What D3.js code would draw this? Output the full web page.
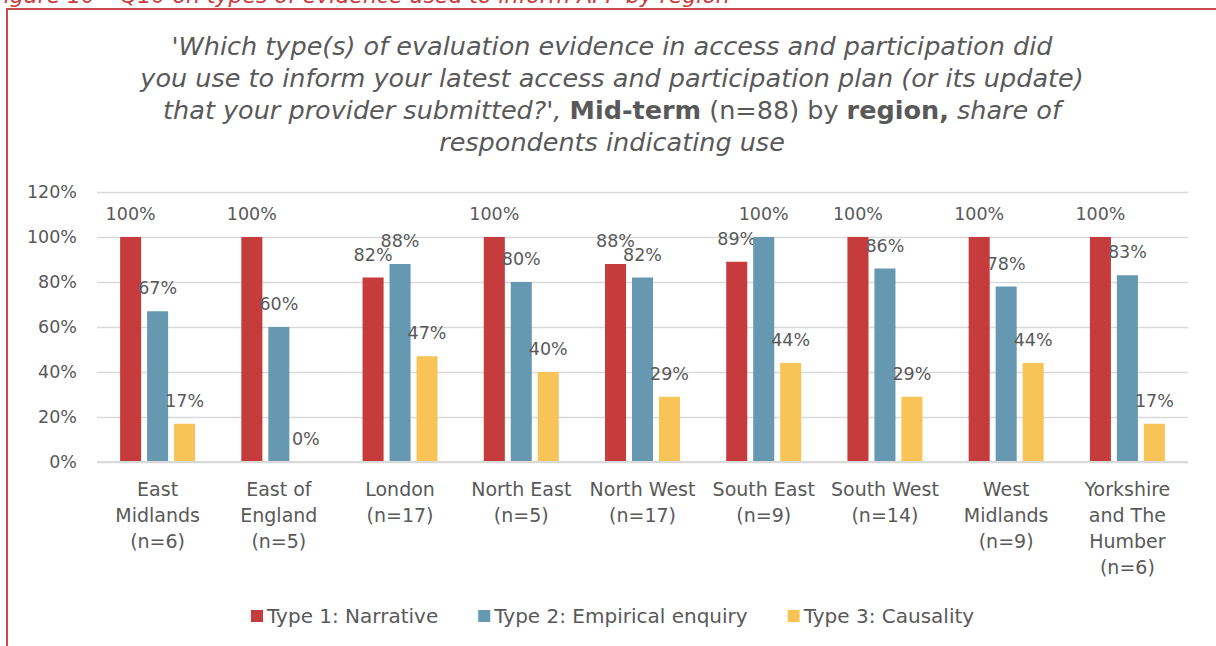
<!DOCTYPE html>
<html>
<head>
<meta charset="utf-8">
<script src="https://cdn.jsdelivr.net/npm/d3@7"></script>
<style>
  body { margin: 0; background: #fff; }
  svg { display: block; font-family: "DejaVu Sans", sans-serif; }
</style>
</head>
<body>
<script>
var width = 1216,
    height = 646;

var regions = [
  ["East", "Midlands", "(n=6)"],
  ["East of", "England", "(n=5)"],
  ["London", "(n=17)"],
  ["North East", "(n=5)"],
  ["North West", "(n=17)"],
  ["South East", "(n=9)"],
  ["South West", "(n=14)"],
  ["West", "Midlands", "(n=9)"],
  ["Yorkshire", "and The", "Humber", "(n=6)"]
];
var seriesNames = ["Type 1: Narrative", "Type 2: Empirical enquiry", "Type 3: Causality"];
var narrative = [100, 100, 82, 100, 88, 89, 100, 100, 100];
var empirical = [67, 60, 88, 80, 82, 100, 86, 78, 83];
var causality = [17, 0, 47, 40, 29, 44, 29, 44, 17];
var yTicks = [0, 20, 40, 60, 80, 100, 120];
var colors = ["#C63B3B", "#6699B1", "#F8C458"];

var series = [narrative, empirical, causality];
var textColor = "#595959";

var svg = d3.select("body")
  .append("svg")
  .attr("width", width)
  .attr("height", height);

// caption of the figure, cut off by the top of the page
svg.append("text")
  .attr("x", -9)
  .attr("y", 3)
  .attr("fill", "#C63B3B")
  .attr("font-style", "italic")
  .attr("font-size", 22)
  .text("Figure 10 \u2013 Q10 on types of evidence used to inform APP by region");

// red frame
svg.append("rect")
  .attr("x", 7)
  .attr("y", 9)
  .attr("width", 1230)
  .attr("height", 700)
  .attr("fill", "none")
  .attr("stroke", "#C94A4A")
  .attr("stroke-width", 2);

// title
var titleLines = [
  [{t: "'Which type(s) of evaluation evidence in access and participation did", s: "italic"}],
  [{t: "you use to inform your latest access and participation plan (or its update)", s: "italic"}],
  [{t: "that your provider submitted?', ", s: "italic"}, {t: "Mid-term", w: "bold"}, {t: " (n=88) by "},
   {t: "region,", w: "bold"}, {t: " share of", s: "italic"}],
  [{t: "respondents indicating use", s: "italic"}]
];
var title = svg.append("text")
  .attr("text-anchor", "middle")
  .attr("font-size", 25.5)
  .attr("fill", textColor);
titleLines.forEach(function(line, i) {
  var tl = title.append("tspan").attr("x", 612).attr("y", 55 + i * 32);
  line.forEach(function(p) {
    tl.append("tspan")
      .attr("font-style", p.s || "normal")
      .attr("font-weight", p.w || "normal")
      .text(p.t);
  });
});

var plotLeft = 97, plotRight = 1188, plotTop = 192, plotBottom = 462;

var xScale = d3.scaleBand()
  .domain(d3.range(regions.length))
  .range([plotLeft, plotRight]);

var inner = d3.scaleBand()
  .domain(d3.range(series.length))
  .range([xScale.bandwidth() / 2 - 37.5, xScale.bandwidth() / 2 + 37.5])
  .paddingInner(0.22);

var yScale = d3.scaleLinear()
  .domain([0, 120])
  .range([plotBottom, plotTop]);

// gridlines
var yAxis = d3.axisLeft(yScale)
  .tickValues(yTicks)
  .tickSize(-(plotRight - plotLeft))
  .tickPadding(20)
  .tickFormat(function(d) { return d + "%"; });

var gy = svg.append("g")
  .attr("transform", "translate(" + plotLeft + ",0)")
  .call(yAxis);
gy.select(".domain").remove();
gy.selectAll(".tick line").attr("stroke", "#D9D9D9").attr("stroke-width", 1.5);
gy.selectAll(".tick text")
  .attr("fill", textColor)
  .attr("font-size", 17.5)
  .attr("font-family", "DejaVu Sans, sans-serif");

// bars
var groups = svg.selectAll("g.region")
  .data(regions)
  .enter()
  .append("g")
  .attr("class", "region")
  .attr("transform", function(d, i) { return "translate(" + xScale(i) + ",0)"; });

groups.each(function(d, i) {
  var g = d3.select(this);
  series.forEach(function(s, k) {
    g.append("rect")
      .attr("x", inner(k))
      .attr("y", yScale(s[i]))
      .attr("width", inner.bandwidth())
      .attr("height", plotBottom - yScale(s[i]))
      .attr("fill", colors[k]);
    g.append("text")
      .attr("x", inner(k) + inner.bandwidth() / 2)
      .attr("y", yScale(s[i]) - 17)
      .attr("text-anchor", "middle")
      .attr("font-size", 17.5)
      .attr("fill", textColor)
      .text(s[i] + "%");
  });
  var lab = g.append("text")
    .attr("text-anchor", "middle")
    .attr("font-size", 19)
    .attr("fill", textColor);
  d.forEach(function(line, j) {
    lab.append("tspan")
      .attr("x", xScale.bandwidth() / 2)
      .attr("y", 496 + j * 26)
      .text(line);
  });
});

// baseline
svg.append("line")
  .attr("x1", plotLeft).attr("x2", plotRight)
  .attr("y1", plotBottom).attr("y2", plotBottom)
  .attr("stroke", "#D9D9D9")
  .attr("stroke-width", 2);

// legend
var legend = svg.append("g").attr("transform", "translate(0,616)");
var lx = 251;
seriesNames.forEach(function(name, k) {
  legend.append("rect")
    .attr("x", lx).attr("y", -6)
    .attr("width", 12).attr("height", 12)
    .attr("fill", colors[k]);
  var t = legend.append("text")
    .attr("x", lx + 16)
    .attr("y", 7)
    .attr("font-size", 20)
    .attr("fill", textColor)
    .text(name);
  lx += 16 + t.node().getComputedTextLength() + 40;
});
</script>
</body>
</html>
